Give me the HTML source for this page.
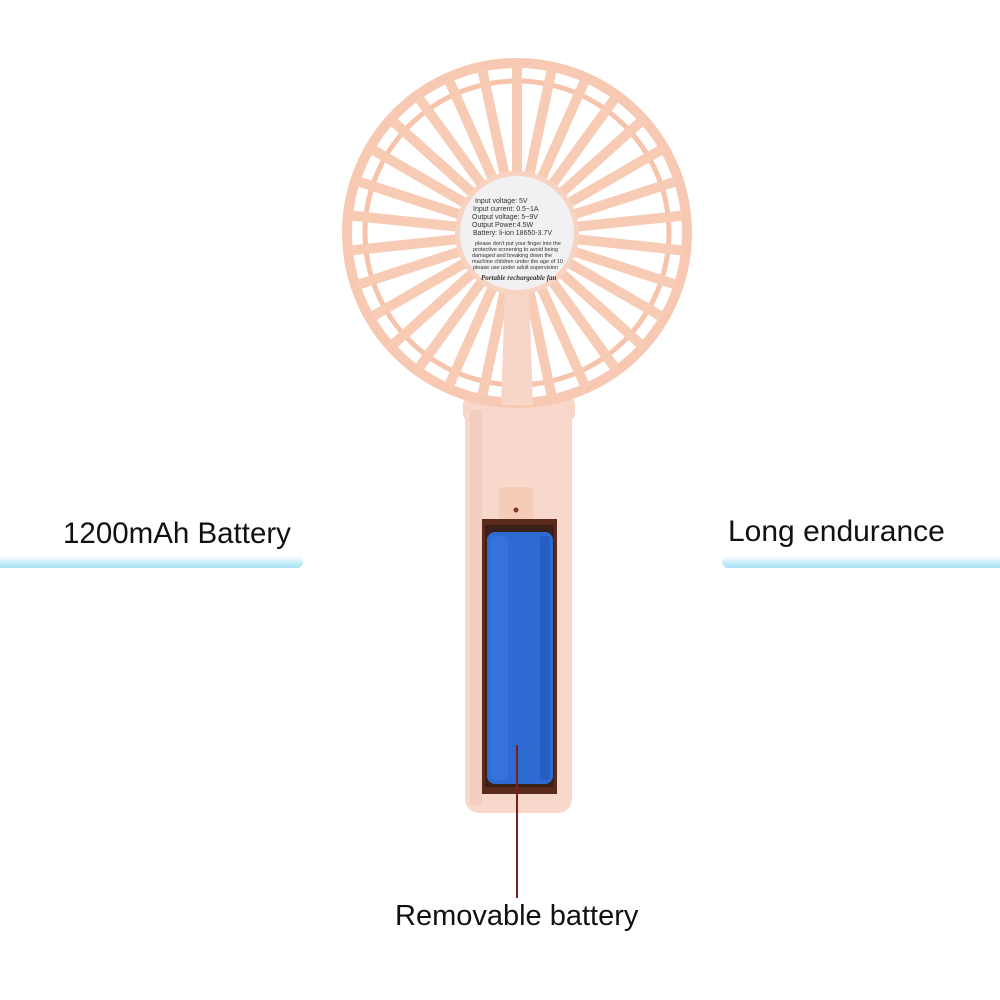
<!DOCTYPE html>
<html><head><style>
html,body{margin:0;padding:0;background:#fff;width:1000px;height:1000px;overflow:hidden;position:relative}
.t{position:absolute;font-family:"Liberation Sans",sans-serif;color:#111;font-size:29.5px;white-space:nowrap}
.ln{position:absolute;height:12px;background:linear-gradient(#ffffff,#c4ecf9 60%,#a9e1f3);border-radius:6px}
</style></head><body>
<div class="t" style="left:63px;top:517px">1200mAh Battery</div>
<div class="ln" style="left:-10px;top:556px;width:313px"></div>
<div class="t" style="left:728px;top:515px;font-size:30px">Long endurance</div>
<div class="ln" style="left:722px;top:556px;width:300px"></div>
<div class="t" style="left:395px;top:900px;font-size:29px">Removable battery</div>
<svg width="1000" height="1000" style="position:absolute;left:0;top:0" xmlns="http://www.w3.org/2000/svg">
<defs>
<rect id="sp" x="-5" y="-168" width="10" height="112" rx="3" fill="#f8cbb5"/>
</defs>
<rect x="463" y="398" width="112" height="22" rx="6" fill="#f7d6c8"/>
<rect x="465" y="405" width="107" height="408" rx="14" fill="#f8d8ca"/>
<rect x="470" y="410" width="12" height="395" fill="#f3cdbd"/>
<g transform="translate(517,233)">
<circle r="170" fill="none" stroke="#f8c9b2" stroke-width="10"/>
<circle r="152" fill="none" stroke="#f6c3ab" stroke-width="5"/>
<g>
<use href="#sp" transform="rotate(0)"/><use href="#sp" transform="rotate(12)"/><use href="#sp" transform="rotate(24)"/><use href="#sp" transform="rotate(36)"/><use href="#sp" transform="rotate(48)"/><use href="#sp" transform="rotate(60)"/><use href="#sp" transform="rotate(72)"/><use href="#sp" transform="rotate(84)"/><use href="#sp" transform="rotate(96)"/><use href="#sp" transform="rotate(108)"/><use href="#sp" transform="rotate(120)"/><use href="#sp" transform="rotate(132)"/><use href="#sp" transform="rotate(144)"/><use href="#sp" transform="rotate(156)"/><use href="#sp" transform="rotate(168)"/><use href="#sp" transform="rotate(180)"/><use href="#sp" transform="rotate(192)"/><use href="#sp" transform="rotate(204)"/><use href="#sp" transform="rotate(216)"/><use href="#sp" transform="rotate(228)"/><use href="#sp" transform="rotate(240)"/><use href="#sp" transform="rotate(252)"/><use href="#sp" transform="rotate(264)"/><use href="#sp" transform="rotate(276)"/><use href="#sp" transform="rotate(288)"/><use href="#sp" transform="rotate(300)"/><use href="#sp" transform="rotate(312)"/><use href="#sp" transform="rotate(324)"/><use href="#sp" transform="rotate(336)"/><use href="#sp" transform="rotate(348)"/>
</g>
<path d="M-12 55 L-16 172 L16 172 L12 55 Z" fill="#f8d6c7"/>
<circle r="62" fill="#f8d3c2"/>
<circle r="57" fill="#f1f0f2"/>
<g font-family="Liberation Sans,sans-serif" font-size="7" fill="#333">
<text x="-42" y="-30">Input voltage: 5V</text>
<text x="-44" y="-22">Input current: 0.5~1A</text>
<text x="-45" y="-14">Output voltage: 5~9V</text>
<text x="-45" y="-6">Output Power:4.5W</text>
<text x="-44" y="2">Battery: li-ion 18650-3.7V</text>
<text x="-42" y="12" font-size="5.5">please don't put your finger into the</text>
<text x="-44" y="18" font-size="5.5">protective screening to avoid being</text>
<text x="-45" y="24" font-size="5.5">damaged and breaking down the</text>
<text x="-45" y="30" font-size="5.5">machine children under the age of 10</text>
<text x="-44" y="36" font-size="5.5">please use under adult supervision</text>
<text x="-36" y="47" font-family="Liberation Serif,serif" font-style="italic" font-weight="bold" font-size="7">Portable rechargeable fan</text>
</g>
</g>
<rect x="499" y="487" width="34" height="34" rx="3" fill="#f5ccb8"/>
<circle cx="516" cy="510" r="2.5" fill="#7a3a2a"/>
<rect x="482" y="519" width="75" height="275" fill="#5a2a1c"/>
<rect x="485" y="525" width="69" height="262" fill="#3a2018"/>
<rect x="487" y="532" width="66" height="252" rx="8" fill="#2d6ad2"/>
<rect x="490" y="536" width="18" height="244" rx="6" fill="#3a7ae0" opacity="0.6"/>
<rect x="540" y="536" width="10" height="244" rx="4" fill="#1f55b5" opacity="0.6"/>
<line x1="517" y1="745" x2="517" y2="898" stroke="#7a1e1e" stroke-width="2"/>
</svg>
</body></html>
